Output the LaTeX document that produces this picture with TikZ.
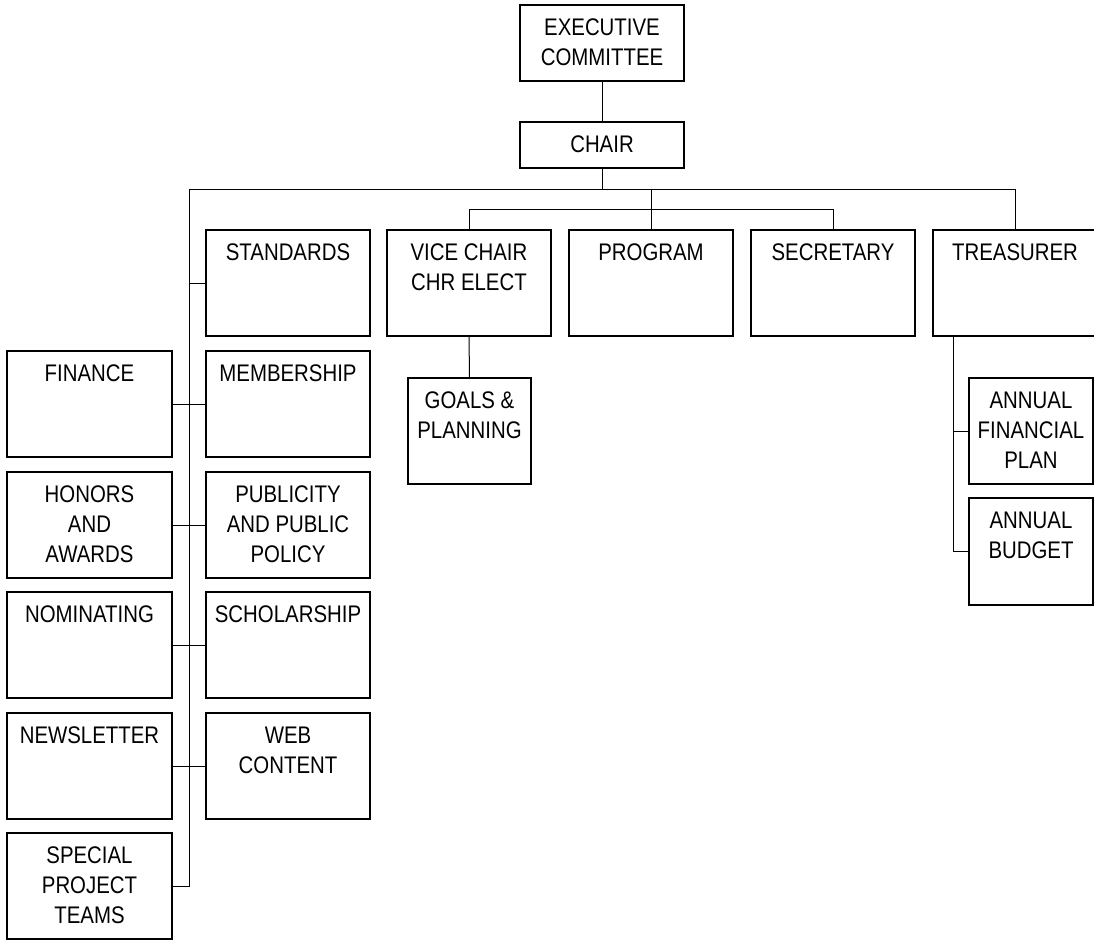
\documentclass[tikz,border=0pt]{standalone}
\usepackage{fontspec}
\setmainfont{Liberation Sans}[FakeStretch=0.85]
\newcommand{\orgfont}{\fontsize{24pt}{30pt}\selectfont}
\newcommand{\orgtxt}[3]{\parbox[t][#2pt][t]{#1pt}{\centering\orgfont\rule{0pt}{30.5pt}#3}}
\begin{document}
\begin{tikzpicture}[x=1pt,y=-1pt,
  orgbox/.style={draw=black, line width=1.2pt, inner sep=0pt, outer sep=0pt, anchor=north west},
  conn/.style={draw=black, line width=1pt}]
\useasboundingbox (0,0) rectangle (1094,942);
% top
\node[orgbox] (exec) at (520,5) {\orgtxt{164}{76}{EXECUTIVE\\COMMITTEE}};
\node[orgbox] (chair) at (520,122) {\orgtxt{164}{46}{CHAIR}};
% first row
\node[orgbox] (std) at (206,230) {\orgtxt{164}{106}{STANDARDS}};
\node[orgbox] (vice) at (387,230) {\orgtxt{164}{106}{VICE CHAIR\\CHR ELECT}};
\node[orgbox] (prog) at (569,230) {\orgtxt{164}{106}{PROGRAM}};
\node[orgbox] (sec) at (751,230) {\orgtxt{164}{106}{SECRETARY}};
\node[orgbox] (treas) at (933,230) {\orgtxt{164}{106}{TREASURER}};
% left columns
\node[orgbox] (fin) at (7,351) {\orgtxt{165}{106}{FINANCE}};
\node[orgbox] (mem) at (206,351) {\orgtxt{164}{106}{MEMBERSHIP}};
\node[orgbox] (hon) at (7,472) {\orgtxt{165}{106}{HONORS\\AND\\AWARDS}};
\node[orgbox] (pub) at (206,472) {\orgtxt{164}{106}{PUBLICITY\\AND PUBLIC\\POLICY}};
\node[orgbox] (nom) at (7,592) {\orgtxt{165}{106}{NOMINATING}};
\node[orgbox] (sch) at (206,592) {\orgtxt{164}{106}{SCHOLARSHIP}};
\node[orgbox] (news) at (7,713) {\orgtxt{165}{106}{NEWSLETTER}};
\node[orgbox] (web) at (206,713) {\orgtxt{164}{106}{WEB\\CONTENT}};
\node[orgbox] (spec) at (7,833) {\orgtxt{165}{106}{SPECIAL\\PROJECT\\TEAMS}};
% sub boxes
\node[orgbox] (goals) at (408,378) {\orgtxt{123}{106}{GOALS \&\\PLANNING}};
\node[orgbox] (afp) at (969,378) {\orgtxt{124}{106}{ANNUAL\\FINANCIAL\\PLAN}};
\node[orgbox] (bud) at (969,498) {\orgtxt{124}{107}{ANNUAL\\BUDGET}};
% connectors
\coordinate (busL) at (189,189);
\coordinate (bus2) at (0,209);
\coordinate (tv) at (953,0);
\draw[conn] (exec.south) -- (chair.north);
\draw[conn] (chair.south) -- (chair.south |- busL);
\draw[conn] (treas.north) |- (busL) |- (spec.east);
\draw[conn] (prog.north) -- (prog.north |- busL);
\draw[conn] (vice.north) -- (vice.north |- bus2) -| (sec.north);
\draw[conn] (std.west) -- (busL |- std.west);
\draw[conn] (fin.east) -- (mem.west);
\draw[conn] (hon.east) -- (pub.west);
\draw[conn] (nom.east) -- (sch.west);
\draw[conn] (news.east) -- (web.west);
\draw[conn] (vice.south) -- (goals.north);
\draw[conn] (tv |- treas.south) |- (afp.west);
\draw[conn] (tv |- treas.south) |- (bud.west);
\end{tikzpicture}
\end{document}
